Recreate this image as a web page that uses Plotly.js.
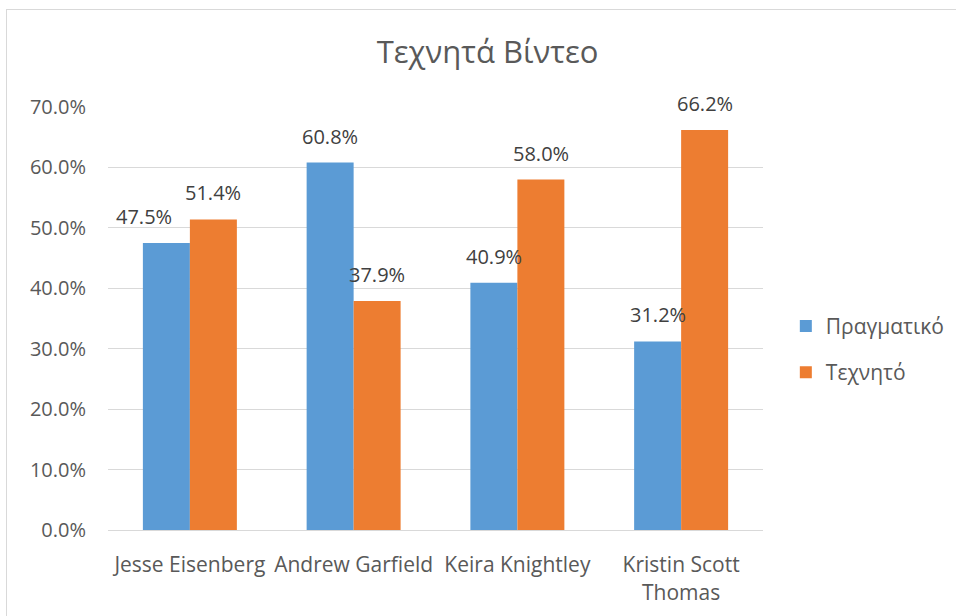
<!DOCTYPE html>
<html>
<head>
<meta charset="utf-8">
<script src="https://cdn.plot.ly/plotly-3.0.1.min.js"></script>
<style>
html,body{margin:0;padding:0;background:#fff;overflow:hidden;}
#frame{position:absolute;left:6px;top:9px;width:1000px;height:700px;border:1px solid #d9d9d9;box-sizing:border-box;}
#chart{position:absolute;left:0;top:0;width:956px;height:616px;}
</style>
</head>
<body>
<div id="frame"></div>
<div id="chart"></div>
<script>
const categories = ["Jesse Eisenberg", "Andrew Garfield", "Keira Knightley", "Kristin Scott<br>Thomas"];
const seriesNames = ["Πραγματικό", "Τεχνητό"];
const realValues = [0.475, 0.608, 0.409, 0.312];
const artificialValues = [0.514, 0.379, 0.580, 0.662];
const chartTitle = "Τεχνητά Βίντεο";

const colors = ["#5b9bd5", "#ed7d31"];
const FONT = "Open Sans, Liberation Sans, sans-serif";
const TXT = "#595959";

const traces = [realValues, artificialValues].map((vals, i) => ({
  type: "bar",
  name: seriesNames[i],
  x: categories,
  y: vals,
  marker: {color: colors[i]},
  legendgroup: "g" + i,
  hoverinfo: "y"
}));

const annotations = [];
[realValues, artificialValues].forEach((vals, s) => {
  vals.forEach((v, k) => {
    let shift = (s === 0 ? -23.5 : 23.5);
    if (s === 0 && k === 0) shift -= 22;
    annotations.push({
      x: categories[k], y: v, xref: "x", yref: "y",
      text: (v * 100).toFixed(1) + "%",
      showarrow: false, xanchor: "center", yanchor: "bottom",
      xshift: shift, yshift: 11,
      font: {family: FONT, size: 20, color: "#404040"}
    });
  });
});

const layout = {
  width: 956, height: 616,
  paper_bgcolor: "rgba(0,0,0,0)",
  plot_bgcolor: "rgba(0,0,0,0)",
  margin: {l: 108, r: 193, t: 107, b: 86},
  font: {family: FONT, color: TXT, size: 20},
  title: {text: chartTitle, font: {family: FONT, size: 31, color: TXT}, x: 0.51, xanchor: "center", y: 0.916, yanchor: "middle", yref: "container"},
  barmode: "group",
  bargap: 0.426,
  bargroupgap: 0,
  showlegend: true,
  legend: {xref: "container", yref: "container", x: 0.822, xanchor: "left", y: 0.433, yanchor: "middle",
           traceorder: "grouped", tracegroupgap: 16,
           font: {family: FONT, size: 21, color: TXT}, bgcolor: "rgba(0,0,0,0)"},
  xaxis: {showgrid: false, showline: true, linecolor: "#d9d9d9", linewidth: 1, ticks: "",
          tickfont: {family: FONT, size: 21, color: TXT}, ticklabelstandoff: 16, fixedrange: true},
  yaxis: {range: [0, 0.7], dtick: 0.1, tickformat: ".1%", showgrid: true, gridcolor: "#d9d9d9", gridwidth: 1,
          zeroline: false, showline: false, ticks: "", ticklabelstandoff: 21,
          tickfont: {family: FONT, size: 20, color: TXT}, fixedrange: true},
  annotations: annotations
};

Plotly.newPlot("chart", traces, layout, {displayModeBar: false, staticPlot: true});
</script>
</body>
</html>
